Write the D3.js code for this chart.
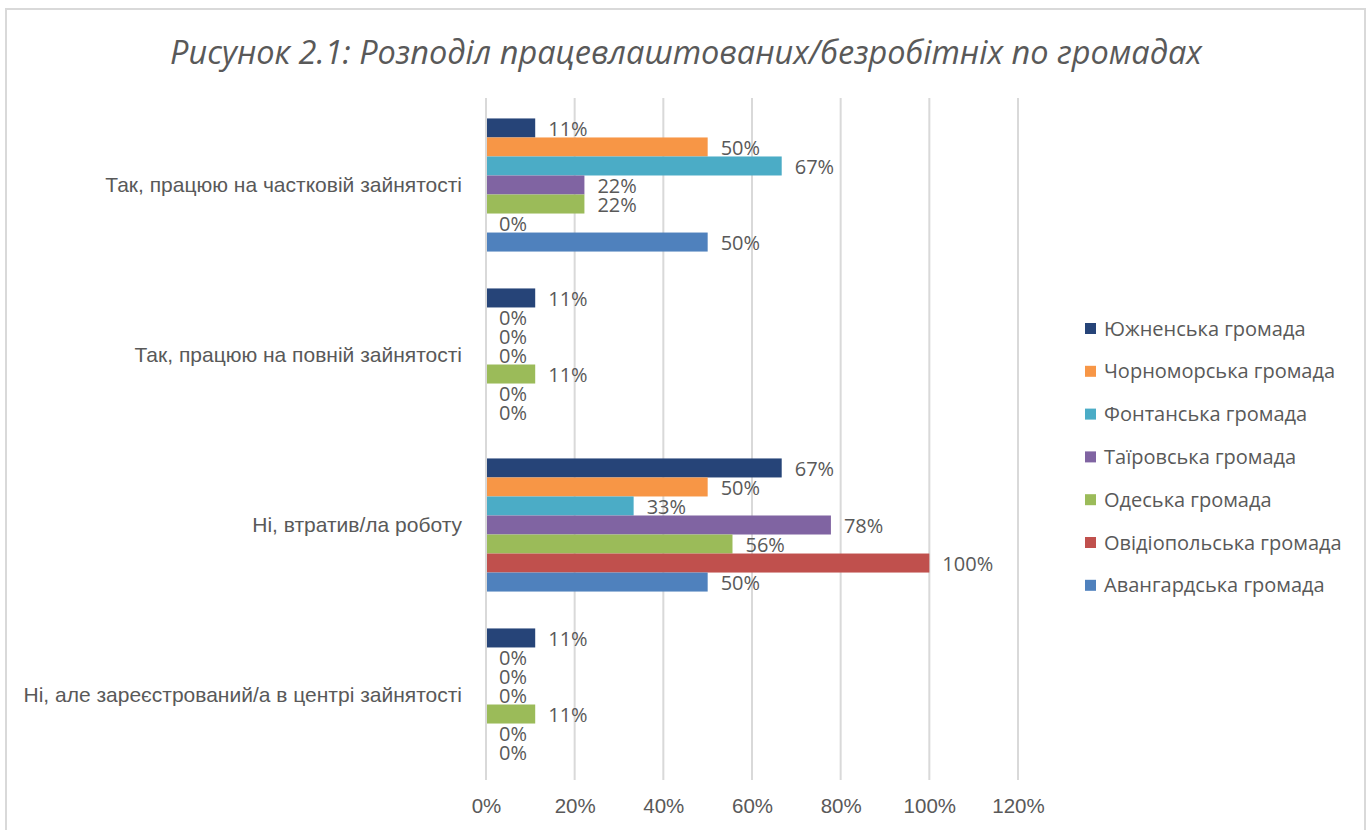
<!DOCTYPE html>
<html>
<head>
<meta charset="utf-8">
<script src="https://cdn.jsdelivr.net/npm/d3@7"></script>
<style>
  body { margin: 0; background: #fff; }
  svg { font-family: "Open Sans", "Noto Sans", sans-serif; }
</style>
</head>
<body>
<div id="chart"></div>
<script>
var categories = [
    "Так, працюю на частковій зайнятості",
    "Так, працюю на повній зайнятості",
    "Ні, втратив/ла роботу",
    "Ні, але зареєстрований/а в центрі зайнятості"
];
var seriesNames = [
    "Южненська громада",
    "Чорноморська громада",
    "Фонтанська громада",
    "Таїровська громада",
    "Одеська громада",
    "Овідіопольська громада",
    "Авангардська громада"
];
var seriesColors = ["#264478", "#f79646", "#4bacc6", "#8064a2", "#9bbb59", "#c0504d", "#4f81bd"];
// values in %, one array per series, in category order
var yuzhne = [11.1, 11.1, 66.7, 11.1];
var chornomorsk = [50, 0, 50, 0];
var fontanka = [66.7, 0, 33.3, 0];
var tairove = [22.2, 0, 77.8, 0];
var odesa = [22.2, 11.1, 55.6, 11.1];
var ovidiopol = [0, 0, 100, 0];
var avangard = [50, 0, 50, 0];
var xTicks = [0, 20, 40, 60, 80, 100, 120];

var values = [yuzhne, chornomorsk, fontanka, tairove, odesa, ovidiopol, avangard];

var W = 1370, H = 830;
var mLeft = 486, mRight = 1018, mTop = 100, mBottom = 780;
var textColor = "#595959";

var svg = d3.select("#chart").append("svg").attr("width", W).attr("height", H);

// chart border
svg.append("rect")
    .attr("x", 6).attr("y", 9).attr("width", 1359).attr("height", 840)
    .attr("fill", "#fff").attr("stroke", "#d9d9d9").attr("stroke-width", 2);

svg.append("text")
    .attr("x", 686).attr("y", 64)
    .attr("text-anchor", "middle")
    .style("font-size", "32.5px")
    .style("font-style", "italic")
    .style("fill", textColor)
    .text("Рисунок 2.1: Розподіл працевлаштованих/безробітніх по громадах");

var x = d3.scaleLinear().domain([0, 120]).range([mLeft, mRight]);
var y = d3.scaleBand().domain(categories).range([mTop, mBottom]).paddingInner(0).paddingOuter(0);
var y1 = d3.scaleBand().domain(seriesNames).range([0, y.bandwidth()]).paddingOuter(0.97);

// gridlines
svg.append("g").selectAll("line")
    .data(xTicks)
    .enter().append("line")
    .attr("x1", d => x(d)).attr("x2", d => x(d))
    .attr("y1", mTop - 2).attr("y2", mBottom)
    .attr("stroke", "#d9d9d9").attr("stroke-width", 2);

var xAxis = d3.axisBottom(x).tickValues(xTicks).tickSize(0).tickFormat(d => d + "%");
var xg = svg.append("g").attr("transform", "translate(0," + (mBottom + 15) + ")").call(xAxis);
xg.select(".domain").remove();
xg.selectAll("text").style("font-size", "20.5px").style("fill", textColor).style("font-family", "inherit");

var yAxis = d3.axisLeft(y).tickSize(0).tickPadding(24);
var yg = svg.append("g").attr("transform", "translate(" + mLeft + ",0)").call(yAxis);
yg.select(".domain").remove();
yg.selectAll("text").style("font-size", "21px").style("fill", textColor).style("font-family", "inherit");

var groups = svg.append("g").selectAll("g")
    .data(categories)
    .enter().append("g")
    .attr("transform", d => "translate(0," + y(d) + ")");

groups.each(function(cat, ci) {
    var g = d3.select(this);
    seriesNames.forEach(function(s, si) {
        var v = values[si][ci];
        if (v > 0) {
            g.append("rect")
                .attr("x", x(0) + 1)
                .attr("y", y1(s))
                .attr("width", x(v) - x(0) - 1)
                .attr("height", y1.bandwidth())
                .attr("fill", seriesColors[si]);
        }
        g.append("text")
            .attr("x", x(v) + 13)
            .attr("y", y1(s) + y1.bandwidth() / 2)
            .attr("dy", "0.38em")
            .style("font-size", "20px")
            .style("fill", textColor)
            .text(Math.round(v) + "%");
    });
});

// legend
var legend = svg.append("g").selectAll("g")
    .data(seriesNames)
    .enter().append("g")
    .attr("transform", (d, i) => "translate(1085," + (328 + i * 42.8) + ")");
legend.append("rect")
    .attr("x", 0).attr("y", -5).attr("width", 11).attr("height", 11)
    .attr("fill", (d, i) => seriesColors[i]);
legend.append("text")
    .attr("x", 19).attr("y", 0).attr("dy", "0.38em")
    .style("font-size", "20px")
    .style("fill", textColor)
    .text(d => d);
</script>
</body>
</html>
